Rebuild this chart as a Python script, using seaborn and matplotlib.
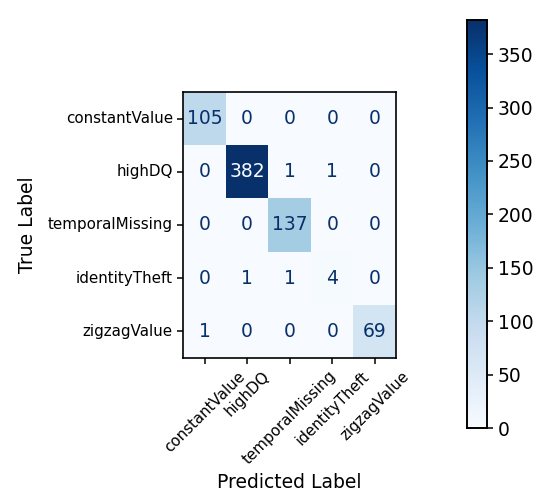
import numpy as np
import matplotlib
matplotlib.use('Agg')
import matplotlib.pyplot as plt
import seaborn as sns

labels = ['constantValue', 'highDQ', 'temporalMissing', 'identityTheft', 'zigzagValue']
row_constant = [105, 0, 0, 0, 0]
row_highdq = [0, 382, 1, 1, 0]
row_temporal = [0, 0, 137, 0, 0]
row_identity = [0, 1, 1, 4, 0]
row_zigzag = [1, 0, 0, 0, 69]

cm = np.array([row_constant, row_highdq, row_temporal, row_identity, row_zigzag])

fig = plt.figure(figsize=(5.47, 5.0), dpi=100)
ax = fig.add_axes([0.335, 0.284, 0.389, 0.532])
cax = fig.add_axes([0.854, 0.144, 0.037, 0.816])

sns.heatmap(cm, ax=ax, cbar_ax=cax, cmap='Blues', annot=True, fmt='d',
            annot_kws={'fontsize': 13.5}, square=False,
            xticklabels=labels, yticklabels=labels)

# sklearn-like text colours
cmap = plt.get_cmap('Blues')
thresh = (cm.max() + cm.min()) / 2.0
for t, v in zip(ax.texts, cm.flatten()):
    t.set_color(cmap(0.0) if v > thresh else cmap(1.0))

for s in ax.spines.values():
    s.set_visible(True)
    s.set_linewidth(1.2)
cax.set_frame_on(True)
for s in cax.spines.values():
    s.set_visible(True)
    s.set_linewidth(1.2)

ax.set_xticklabels(labels, rotation=45, ha='center', fontsize=10.9)
ax.set_yticklabels(labels, rotation=0, fontsize=10.9)
ax.tick_params(length=4, width=1.1)
ax.set_xlabel('Predicted Label', fontsize=13.5)
ax.set_ylabel('True Label', fontsize=13.5, labelpad=8)

cax.set_yticks([0, 50, 100, 150, 200, 250, 300, 350])
cax.tick_params(labelsize=13.5, length=4, width=1.1)

fig.savefig('out.png', dpi=100)
